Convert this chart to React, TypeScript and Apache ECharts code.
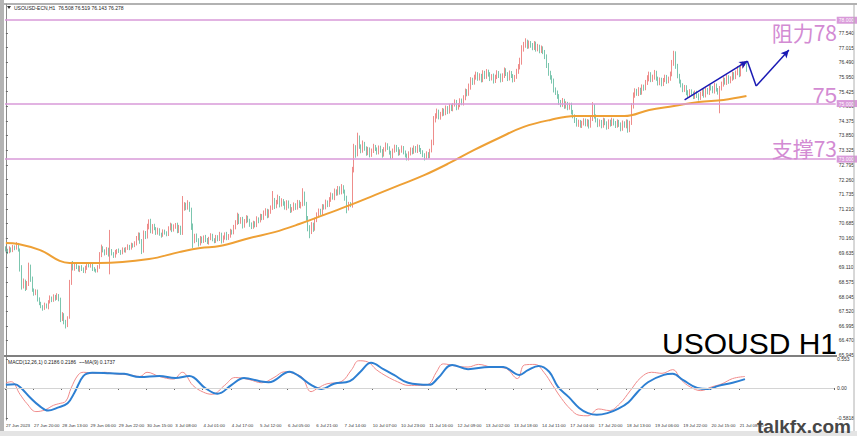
import React, { useEffect, useRef } from 'react';
import * as echarts from 'echarts';

const TIME_LABELS = ["27 Jun 2023","27 Jun 20:00","28 Jun 13:00","29 Jun 06:00","29 Jun 22:00","30 Jun 15:00","3 Jul 08:00","4 Jul 01:00","4 Jul 17:00","5 Jul 12:00","6 Jul 05:00","6 Jul 21:00","7 Jul 14:00","10 Jul 07:00","10 Jul 23:00","11 Jul 16:00","12 Jul 09:00","13 Jul 02:00","13 Jul 18:00","14 Jul 11:00","17 Jul 04:00","17 Jul 20:00","18 Jul 13:00","19 Jul 06:00","19 Jul 22:00","20 Jul 15:00","21 Jul 08:00"];
const PRICE_TICKS = ["65.945","66.470","66.995","67.520","68.045","68.575","69.110","69.635","70.160","70.685","71.210","71.735","72.260","72.795","73.325","73.850","74.375","74.900","75.425","75.950","76.490","77.015","77.540"];
const MACD_TICKS = ["-0.5818","0.00","0.553"];
const LEVELS = [78, 75, 73];
const LEVEL_TEXTS = ["阻力78", "75", "支撑73"];
const HEADER = "USOUSD-ECN,H1  76.508 76.519 76.143 76.278";
const MACD_HEADER = "MACD(12,26,1) 0.2186 0.2186  ~~MA(9) 0.1737";
const LAST_BAR = { open: 76.508, high: 76.519, low: 76.143, close: 76.278 };
const FIRST_OPEN = 69.80;

const CLOSE = [
  69.72,69.65,69.78,69.70,69.84,69.80,69.92,69.74,69.10,68.42,68.60,68.35,68.52,69.15,68.70,68.30,68.15,68.25,67.95,67.80,
  67.70,67.62,67.75,67.68,67.85,68.00,67.92,68.05,67.98,68.10,67.95,67.25,67.40,67.15,67.05,67.30,68.55,69.25,69.05,69.20,
  69.10,69.00,69.12,69.05,68.95,69.08,69.20,69.15,69.22,69.05,69.00,68.98,69.10,69.55,69.80,69.70,69.60,69.75,69.55,69.70,
  69.60,69.50,69.65,69.72,69.68,69.62,69.75,69.70,69.78,69.85,69.80,69.92,69.88,69.95,70.15,70.30,70.05,69.70,70.35,70.20,
  70.55,70.75,70.40,70.60,70.50,70.35,70.45,70.30,70.25,70.40,70.35,70.28,70.50,70.62,70.45,70.58,70.65,70.40,70.55,70.35,
  71.20,71.35,71.25,71.40,71.20,70.60,70.05,70.25,70.10,69.95,70.15,70.05,70.20,70.10,70.00,70.15,70.25,70.10,70.05,70.20,
  70.12,70.30,70.05,70.18,70.30,70.15,70.25,70.40,70.35,70.55,70.70,70.95,70.75,70.85,70.60,70.75,70.90,70.80,70.65,70.55,
  70.70,70.62,70.85,70.78,70.95,70.88,71.05,71.15,70.95,71.10,71.25,71.50,71.30,71.45,71.60,71.35,71.50,71.40,71.25,71.45,
  71.30,71.15,71.20,71.35,71.25,71.45,71.30,71.40,71.75,71.40,70.90,70.55,70.40,70.65,70.50,70.80,71.00,71.15,71.05,71.30,
  71.25,71.45,71.35,71.55,71.70,71.60,71.85,71.75,71.95,71.80,72.00,71.85,71.60,71.25,71.40,71.35,72.60,73.40,73.20,73.75,
  73.45,73.30,73.55,73.40,73.20,73.35,73.15,73.30,73.45,73.35,73.25,73.40,73.30,73.15,73.35,73.50,73.40,73.25,73.10,73.30,
  73.45,73.35,73.20,73.30,73.40,73.25,73.15,73.05,73.20,73.35,73.25,73.40,73.30,73.45,73.35,73.25,73.15,73.05,73.20,73.10,
  73.30,73.60,74.40,74.55,74.70,74.50,74.60,74.75,74.65,74.85,74.70,74.90,74.80,74.95,75.05,74.85,74.95,75.10,75.00,75.20,
  75.45,75.35,75.60,75.85,75.75,75.95,76.05,75.90,76.00,75.85,76.10,75.95,76.15,76.05,75.90,76.00,75.80,75.95,76.10,76.00,
  75.85,76.00,76.20,76.05,75.90,76.10,76.00,75.85,75.95,76.15,76.30,76.50,76.95,77.10,77.20,77.05,77.15,77.10,77.00,77.15,
  76.95,77.05,76.90,77.00,76.85,76.70,76.40,76.10,75.95,75.80,75.50,75.40,75.25,75.05,74.95,75.10,74.90,75.00,74.85,74.95,
  74.70,74.55,74.40,74.25,74.35,74.20,74.30,74.40,74.25,74.35,74.20,74.45,74.90,74.55,74.40,74.25,74.35,74.20,74.40,74.30,
  74.15,74.35,74.25,74.40,74.30,74.20,74.35,74.25,74.10,74.30,74.20,74.35,74.05,74.30,74.90,75.30,75.45,75.35,75.50,75.40,
  75.60,75.55,75.75,75.90,76.05,75.85,75.95,76.10,75.90,75.75,75.85,75.70,75.85,75.95,75.80,75.90,76.05,76.45,76.80,76.35,
  76.00,75.80,75.65,75.50,75.60,75.40,75.30,75.45,75.35,75.25,75.40,75.30,75.20,75.35,75.45,75.30,75.50,75.40,75.60,75.55,
  75.45,75.65,75.50,75.40,75.55,75.70,75.85,75.75,75.95,75.80,75.90,76.05,75.95,76.10,76.25,76.05,76.35,76.45,76.51,76.278
];

// wick lengths in cents above / below the candle body
const WICK_UP = [
  6,5,8,4,7,5,9,6,4,8,10,6,9,12,5,7,4,6,5,7,
  6,4,8,5,7,9,5,8,6,7,4,6,9,5,6,4,10,5,8,6,
  5,7,4,6,5,8,6,4,7,5,6,5,8,10,12,6,5,8,6,75,
  6,5,8,4,6,5,7,6,5,8,6,7,5,9,8,6,5,7,8,6,
  12,8,10,6,7,5,8,6,5,7,6,5,8,9,6,7,5,6,8,5,
  47,10,8,12,6,5,8,6,7,5,8,6,5,7,6,5,8,6,5,7,
  6,8,5,7,6,8,5,9,6,8,10,12,8,6,7,9,8,6,5,7,
  8,6,9,5,8,7,10,8,6,9,8,35,10,8,12,7,9,6,8,7,
  6,8,7,9,6,8,7,6,20,8,6,5,7,8,6,9,8,7,6,8,
  7,9,6,8,10,7,9,6,8,7,10,6,5,8,6,5,12,15,10,20,
  10,8,12,7,6,9,7,8,10,6,7,9,8,6,8,10,7,6,5,8,
  7,6,8,5,9,7,6,5,8,7,6,9,7,8,6,5,7,6,8,5,
  7,10,15,10,12,8,10,9,7,8,6,9,8,7,10,8,7,9,8,10,
  9,7,12,10,8,9,10,8,9,7,10,8,9,7,8,6,8,9,10,7,
  8,9,10,7,8,9,7,6,8,10,12,15,15,12,15,10,12,10,8,10,
  8,10,7,9,6,8,7,6,8,7,10,8,7,9,8,10,7,8,6,8,
  8,7,6,8,7,6,8,7,6,9,7,10,15,8,6,7,8,6,9,7,
  6,8,7,9,6,7,8,6,7,9,6,8,7,8,12,10,10,8,9,7,
  9,8,10,12,10,8,9,11,8,7,9,8,7,9,8,7,10,12,10,8,
  8,7,6,8,7,6,8,7,6,8,7,6,7,8,9,7,8,6,9,7,
  8,10,7,6,8,9,10,8,9,7,8,10,8,9,10,8,9,6,1,1
];
const WICK_DN = [
  5,7,4,6,5,8,6,7,15,12,8,10,6,9,12,8,7,5,8,6,
  7,8,5,6,9,5,7,6,8,5,7,12,8,10,15,10,5,8,6,7,
  6,5,7,8,5,6,7,5,6,8,5,7,6,5,8,6,7,5,6,70,
  7,6,5,8,6,7,5,6,7,5,8,6,7,5,6,8,10,12,7,8,
  6,8,7,9,6,8,7,6,8,5,7,6,5,7,8,6,9,7,6,8,
  8,6,9,7,10,15,25,8,9,10,6,8,7,9,6,8,7,6,8,7,
  8,7,9,6,8,7,6,8,7,6,8,7,9,8,10,7,6,8,9,7,
  6,8,7,9,6,8,7,9,8,6,7,8,10,7,8,9,6,8,7,9,
  8,9,7,6,8,7,6,8,10,8,12,15,25,10,12,8,7,9,6,8,
  7,6,8,7,9,6,8,7,6,8,7,9,10,20,10,8,10,8,15,10,
  8,9,7,10,8,6,9,7,8,6,9,8,7,10,6,8,7,9,10,8,
  7,9,8,6,7,8,9,10,10,7,8,6,7,8,9,7,8,10,6,8,
  7,6,10,8,9,7,8,6,9,7,8,6,7,8,6,9,7,8,6,7,
  8,9,7,10,8,7,9,8,7,9,8,7,6,8,9,7,8,6,7,8,
  9,7,8,6,9,7,8,9,7,6,8,7,10,8,9,8,7,9,8,7,
  8,7,9,8,7,10,12,10,9,8,10,9,8,10,8,7,9,8,9,7,
  9,8,10,8,9,7,8,9,7,8,10,7,8,9,8,10,8,9,7,8,
  9,7,8,6,9,8,7,9,10,8,7,9,10,8,7,8,9,7,8,9,
  8,9,7,8,10,8,7,9,8,10,9,8,7,8,9,7,8,7,9,10,
  9,8,7,9,8,10,9,8,7,9,8,10,9,7,8,9,8,7,9,8,
  8,9,7,8,75,8,9,7,8,9,7,8,9,7,8,10,7,8,9,14
];

// moving average read at sample bars
const MA_IDX = [0,7,19,36,53,81,98,110,121,138,152,166,180,195,209,223,237,251,265,279,293,308,322,336,350,364,378,392,406,419];
const MA_VAL = [69.98,69.94,69.73,69.26,69.26,69.40,69.65,69.80,69.87,70.16,70.37,70.66,70.99,71.35,71.71,72.07,72.43,72.86,73.33,73.76,74.16,74.41,74.55,74.55,74.55,74.77,74.91,75.06,75.13,75.27];

// MACD main (red) read at sample bars
const MAIN_IDX = [0,3,8,12,17,22,27,30,34,37,41,44,50,56,62,70,76,80,87,95,100,106,112,117,124,130,138,145,152,158,163,168,173,177,182,190,196,200,205,210,216,222,228,235,240,244,248,255,262,268,275,283,290,294,300,305,310,315,320,325,330,336,342,348,354,360,366,372,378,383,388,394,400,406,412,419];
const MAIN_VAL = [0.10,0.12,-0.12,-0.30,-0.45,-0.42,-0.33,-0.30,-0.25,0.00,0.25,0.30,0.28,0.30,0.27,0.25,0.22,0.30,0.22,0.17,0.30,0.05,-0.08,-0.12,0.05,0.20,0.16,0.10,0.20,0.31,0.28,0.20,-0.07,0.00,0.08,0.12,0.35,0.52,0.50,0.35,0.22,0.12,0.05,0.05,0.08,0.30,0.46,0.42,0.40,0.45,0.40,0.38,0.18,0.44,0.45,0.30,0.05,-0.20,-0.40,-0.52,-0.53,-0.40,-0.43,-0.30,-0.05,0.20,0.30,0.28,0.35,0.15,0.02,-0.05,0.02,0.08,0.18,0.22];

// MACD signal MA(9) (blue) read at sample bars
const SIG_IDX = [0,5,8,14,19,24,29,35,39,44,49,59,67,76,87,96,104,113,120,128,135,144,149,161,166,173,179,186,195,201,207,214,220,228,240,245,253,262,274,282,291,296,302,308,313,319,325,330,335,341,347,353,358,364,373,378,384,392,398,404,412,419];
const SIG_VAL = [0.06,0.07,0.02,-0.19,-0.34,-0.43,-0.38,-0.29,-0.08,0.23,0.29,0.28,0.27,0.21,0.23,0.19,0.23,0.00,-0.11,0.06,0.19,0.13,0.11,0.31,0.23,0.06,-0.02,0.08,0.13,0.31,0.48,0.36,0.25,0.10,0.06,0.19,0.44,0.36,0.40,0.40,0.25,0.34,0.42,0.31,0.02,-0.17,-0.38,-0.48,-0.51,-0.48,-0.40,-0.27,-0.08,0.11,0.25,0.27,0.15,0.00,-0.02,0.04,0.10,0.17];

// hand-drawn forecast arrow, in [bar, price]
const ARROW_PTS = [[384, 75.13], [419.5, 76.53], [424.5, 75.63], [443, 76.93]];

const TOTAL_SLOTS = 470;
const LABEL_EVERY = 16;
const Y_MIN = 65.945, Y_MAX = 78.585;
const M_MIN = -0.6107, M_MAX = 0.5916;

const UP = '#e2403c';
const DOWN = '#24a078';
const PINK = '#d99ad9';
const PINK_TEXT = '#d38bd3';
const SMALL_FONT = 'Liberation Sans';

function buildOption() {
  const n = CLOSE.length;
  const candles = CLOSE.map((c, i) => {
    if (i === n - 1) return [LAST_BAR.open, LAST_BAR.close, LAST_BAR.low, LAST_BAR.high];
    const o = i === 0 ? FIRST_OPEN : CLOSE[i - 1];
    const hi = Math.max(o, c) + WICK_UP[i] / 100;
    const lo = Math.min(o, c) - WICK_DN[i] / 100;
    return [o, c, lo, hi];
  });
  const cats = Array.from({ length: TOTAL_SLOTS }, (_, i) => String(i));
  const labelInterval = (index: number) => index % LABEL_EVERY === 0 && index / LABEL_EVERY < TIME_LABELS.length;

  const levelLines = LEVELS.map((lv) => ({
    yAxis: lv,
    lineStyle: { color: PINK, width: 1.5, type: 'solid' },
    label: {
      show: true, position: 'end', distance: 1, formatter: lv.toFixed(3),
      backgroundColor: PINK, color: '#fff', fontSize: 5, fontFamily: SMALL_FONT, padding: [1, 3, 1, 2],
    },
  }));
  const lastLine = {
    yAxis: LAST_BAR.close,
    lineStyle: { opacity: 0 },
    label: {
      show: true, position: 'end', distance: 1, formatter: LAST_BAR.close.toFixed(3),
      backgroundColor: '#000', color: '#fff', fontSize: 5, fontFamily: SMALL_FONT, padding: [1, 3, 1, 2],
    },
  };

  const arrowData: any[] = [];
  for (let k = 0; k < ARROW_PTS.length - 1; k++) {
    const withHead = k !== 1;
    arrowData.push([
      { coord: ARROW_PTS[k], symbol: 'none' },
      { coord: ARROW_PTS[k + 1], symbol: withHead ? 'arrow' : 'none' },
    ]);
  }

  const graphicTexts: any[] = [
    { type: 'rect', shape: { x: 0, y: 0, width: 4, height: 436 }, style: { fill: '#b4b4b4' }, z: 100 },
    { type: 'line', shape: { x1: 4, y1: 4, x2: 857, y2: 4 }, style: { stroke: '#999', lineWidth: 1.5 }, z: 100 },
    { type: 'line', shape: { x1: 4, y1: 356, x2: 837, y2: 356 }, style: { stroke: '#7f7f7f', lineWidth: 2 }, z: 100 },
    { type: 'line', shape: { x1: 854, y1: 4, x2: 854, y2: 431 }, style: { stroke: '#b0b0b0', lineWidth: 1 }, z: 100 },
    { type: 'rect', shape: { x: 0, y: 431, width: 857, height: 5 }, style: { fill: '#e4e4e4' }, z: 100 },
    { type: 'polygon', shape: { points: [[7, 6], [11, 6], [9, 9]] }, style: { fill: '#333' }, z: 100 },
    { type: 'text', x: 14, y: 8, style: { text: HEADER, fontSize: 5, fontFamily: SMALL_FONT, fill: '#222', verticalAlign: 'middle' }, z: 100 },
    { type: 'text', x: 8, y: 362, style: { text: MACD_HEADER, fontSize: 5, fontFamily: SMALL_FONT, fill: '#222', verticalAlign: 'middle' }, z: 100 },
    { type: 'text', x: 837, y: 32, style: { text: LEVEL_TEXTS[0], fontSize: 21, fontFamily: 'Noto Sans CJK SC', fill: PINK_TEXT, align: 'right', verticalAlign: 'middle' }, z: 100 },
    { type: 'text', x: 837, y: 95, style: { text: LEVEL_TEXTS[1], fontSize: 22, fontFamily: 'Liberation Sans', fill: PINK_TEXT, align: 'right', verticalAlign: 'middle' }, z: 100 },
    { type: 'text', x: 837, y: 148, style: { text: LEVEL_TEXTS[2], fontSize: 21, fontFamily: 'Noto Sans CJK SC', fill: PINK_TEXT, align: 'right', verticalAlign: 'middle' }, z: 100 },
    { type: 'text', x: 662, y: 343, style: { text: 'USOUSD H1', fontSize: 30, fontFamily: 'Liberation Sans', fill: '#000', verticalAlign: 'middle' }, z: 100 },
    { type: 'text', x: 757, y: 426, style: { text: 'talkfx.com', fontSize: 19, fontWeight: 'bold', fontFamily: 'Liberation Sans', fill: '#474747', verticalAlign: 'middle' }, z: 101 },
  ];

  return {
    animation: false,
    backgroundColor: '#ffffff',
    grid: [
      { left: 5, top: 4, width: 831, height: 351 },
      { left: 5, top: 357, width: 831, height: 63 },
    ],
    xAxis: [
      { type: 'category', gridIndex: 0, data: cats, boundaryGap: true, axisLine: { show: false }, axisTick: { show: false }, axisLabel: { show: false }, splitLine: { show: false } },
      {
        type: 'category', gridIndex: 1, data: cats, boundaryGap: true,
        axisLine: { show: true, lineStyle: { color: '#8a8a8a', width: 1 } },
        axisTick: { show: true, interval: labelInterval, length: 2, lineStyle: { color: '#666' } },
        axisLabel: {
          show: true, interval: labelInterval, align: 'left', margin: 3, fontSize: 4.4, fontFamily: SMALL_FONT, color: '#333',
          formatter: (v: string) => TIME_LABELS[Math.round(Number(v) / LABEL_EVERY)] ?? '',
        },
        splitLine: { show: false },
      },
      { type: 'value', gridIndex: 0, min: -0.5, max: TOTAL_SLOTS - 0.5, show: false },
      { type: 'value', gridIndex: 1, min: -0.5, max: TOTAL_SLOTS - 0.5, show: false },
    ],
    yAxis: [
      {
        type: 'value', gridIndex: 0, position: 'right', min: Y_MIN, max: Y_MAX, scale: true,
        axisLine: { show: true, lineStyle: { color: '#8a8a8a' } },
        axisTick: { show: true, length: 2, customValues: PRICE_TICKS.map(Number), lineStyle: { color: '#666' } },
        axisLabel: { show: true, customValues: PRICE_TICKS.map(Number), margin: 3, fontSize: 5, fontFamily: SMALL_FONT, color: '#333', formatter: (v: number) => v.toFixed(3) },
        splitLine: { show: false },
      },
      {
        type: 'value', gridIndex: 1, position: 'right', min: M_MIN, max: M_MAX,
        axisLine: { show: true, lineStyle: { color: '#8a8a8a' } },
        axisTick: { show: true, length: 2, customValues: MACD_TICKS.map(Number), lineStyle: { color: '#666' } },
        axisLabel: {
          show: true, customValues: MACD_TICKS.map(Number), margin: 3, fontSize: 5, fontFamily: SMALL_FONT, color: '#333',
          formatter: (v: number) => MACD_TICKS.find((t) => Math.abs(Number(t) - v) < 1e-6) ?? String(v),
        },
        splitLine: { show: false },
      },
    ],
    series: [
      {
        type: 'candlestick', xAxisIndex: 0, yAxisIndex: 0, data: candles, barWidth: 1.3,
        itemStyle: { color: UP, color0: DOWN, borderColor: UP, borderColor0: DOWN, borderWidth: 0.6 },
        markLine: { silent: true, symbol: ['none', 'none'], animation: false, data: [...levelLines, lastLine] },
        z: 2,
      },
      {
        type: 'line', xAxisIndex: 2, yAxisIndex: 0, data: MA_IDX.map((x, i) => [x, MA_VAL[i]]),
        smooth: 0.4, showSymbol: false, lineStyle: { color: '#eea035', width: 2 }, z: 3,
        markLine: {
          silent: true, animation: false, symbolSize: [6, 8],
          lineStyle: { color: '#1a1ab4', width: 1.5, type: 'solid' },
          label: { show: false },
          data: arrowData,
        },
      },
      {
        type: 'line', xAxisIndex: 3, yAxisIndex: 1, data: MAIN_IDX.map((x, i) => [x, MAIN_VAL[i]]),
        smooth: 0.4, showSymbol: false, lineStyle: { color: '#f08b8b', width: 1 }, z: 3,
        markLine: { silent: true, symbol: ['none', 'none'], animation: false, lineStyle: { color: '#d4d4d4', width: 1, type: 'solid' }, label: { show: false }, data: [{ yAxis: 0 }] },
      },
      {
        type: 'line', xAxisIndex: 3, yAxisIndex: 1, data: SIG_IDX.map((x, i) => [x, SIG_VAL[i]]),
        smooth: 0.4, showSymbol: false, lineStyle: { color: '#2d7fd2', width: 2 }, z: 4,
      },
    ],
    graphic: graphicTexts,
  };
}

export default function App() {
  const ref = useRef<HTMLDivElement>(null);
  useEffect(() => {
    document.body.style.margin = '0';
    const chart = echarts.init(ref.current!, null, { renderer: 'svg' });
    chart.setOption(buildOption() as any);
    return () => chart.dispose();
  }, []);
  return <div ref={ref} style={{ width: 857, height: 436 }} />;
}
